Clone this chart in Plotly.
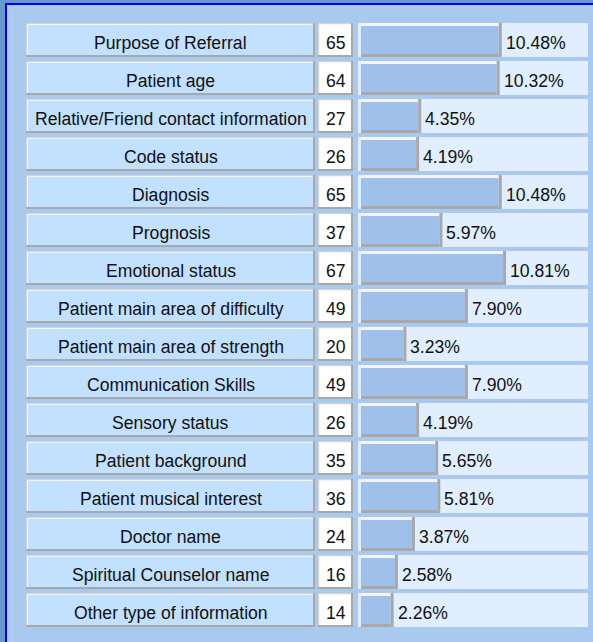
import plotly.graph_objects as go

# ---------------- data ----------------
labels = [
    "Purpose of Referral",
    "Patient age",
    "Relative/Friend contact information",
    "Code status",
    "Diagnosis",
    "Prognosis",
    "Emotional status",
    "Patient main area of difficulty",
    "Patient main area of strength",
    "Communication Skills",
    "Sensory status",
    "Patient background",
    "Patient musical interest",
    "Doctor name",
    "Spiritual Counselor name",
    "Other type of information",
]
counts = [65, 64, 27, 26, 65, 37, 67, 49, 20, 49, 26, 35, 36, 24, 16, 14]
percents = ["10.48%", "10.32%", "4.35%", "4.19%", "10.48%", "5.97%", "10.81%",
            "7.90%", "3.23%", "7.90%", "4.19%", "5.65%", "5.81%", "3.87%",
            "2.58%", "2.26%"]

# ---------------- layout constants ----------------
W, H = 593, 642
PITCH = 38          # px per row
FIRST_CENTER = 40   # px from top to first row centre
CELL_H = 34
BEV = 3
U = 1.0 / PITCH     # row units per pixel

LABEL_X = (26, 315)
COUNT_X = (318, 353)
BARCELL_X = (358, 588)
AXIS_X0 = 361
PX_PER_COUNT = 2.12

FONT = dict(family="Liberation Sans, Arial, sans-serif", size=17.6, color="#111111")

PANEL = "#a9c9ee"
OUTER = "#6699cc"
FRAME = "#0000f0"
LABEL_FILL = "#c2e0ff"
BARCELL_FILL = "#e0eeff"
BAR_FILL = "#a0c0ec"
GRAY = "#a8a8a8"
LIGHT = "#f4f4f4"
LIGHTGRAY = "#d4d4d4"

rows = list(range(len(labels)))

fig = go.Figure()
fig.add_trace(go.Bar(
    x=counts, y=rows, orientation="h",
    width=(CELL_H - 2 * BEV) * U,
    marker=dict(color=BAR_FILL, line=dict(width=0)),
    hoverinfo="skip", showlegend=False,
))

shapes = []


def px(x):
    return x / W


def paper_rect(x0, x1, y0, y1, color):
    # y in pixels from top
    shapes.append(dict(type="rect", xref="paper", yref="paper", layer="below",
                       x0=px(x0), x1=px(x1), y0=1 - y1 / H, y1=1 - y0 / H,
                       fillcolor=color, line=dict(width=0)))


def cell_rect(x0, x1, i, top, bot, color):
    shapes.append(dict(type="rect", xref="paper", yref="y", layer="below",
                       x0=px(x0), x1=px(x1),
                       y0=i - (CELL_H / 2) * U + top * U,
                       y1=i + (CELL_H / 2) * U - bot * U,
                       fillcolor=color, line=dict(width=0)))


# outer frame
paper_rect(0, W, 0, 3, OUTER)
paper_rect(0, 5, 0, H, OUTER)
paper_rect(5, W, 3, 5, FRAME)
paper_rect(5, 7, 3, H, FRAME)


def bevel_cell(x0, x1, i, fill):
    cell_rect(x0, x1, i, 0, 0, GRAY)
    cell_rect(x0, x1 - 2, i, 0, 2, LIGHTGRAY)
    cell_rect(x0 + 1, x1 - 2, i, 1, 2, LIGHT)
    cell_rect(x0 + 2, x1 - 2, i, 2, 2, fill)


for i in rows:
    bevel_cell(LABEL_X[0], LABEL_X[1], i, LABEL_FILL)
    bevel_cell(COUNT_X[0], COUNT_X[1], i, "#ffffff")
    cell_rect(BARCELL_X[0], BARCELL_X[1], i, 0, 0, BARCELL_FILL)

# bar bevels (anchored to the bar data values)
for i, v in zip(rows, counts):
    yo0 = i - (CELL_H / 2) * U
    yo1 = i + (CELL_H / 2) * U
    yi0 = i - (CELL_H / 2 - BEV) * U
    yi1 = i + (CELL_H / 2 - BEV) * U
    shapes.append(dict(type="rect", xref="x", yref="y", xsizemode="pixel", xanchor=0,
                       x0=-BEV, x1=0, y0=yo0, y1=yo1, fillcolor=LIGHT, line=dict(width=0)))
    shapes.append(dict(type="rect", xref="x", yref="y", x0=0, x1=v, y0=yo0, y1=yi0,
                       fillcolor=LIGHT, line=dict(width=0)))
    shapes.append(dict(type="rect", xref="x", yref="y", x0=0, x1=v, y0=yi1, y1=yo1,
                       fillcolor=GRAY, line=dict(width=0)))
    shapes.append(dict(type="rect", xref="x", yref="y", xsizemode="pixel", xanchor=v,
                       x0=0, x1=BEV, y0=yo0, y1=yo1, fillcolor=GRAY, line=dict(width=0)))

annotations = []
TEXT_SHIFT = -2.5
for i, lab, c, p, v in zip(rows, labels, counts, percents, counts):
    annotations.append(dict(x=px((LABEL_X[0] + LABEL_X[1]) / 2), xref="paper", y=i, yref="y",
                            text=lab, showarrow=False, xanchor="center", yanchor="middle",
                            yshift=TEXT_SHIFT, font=FONT))
    annotations.append(dict(x=px((COUNT_X[0] + COUNT_X[1]) / 2), xref="paper", y=i, yref="y",
                            text=str(c), showarrow=False, xanchor="center", yanchor="middle",
                            yshift=TEXT_SHIFT, font=FONT))
    annotations.append(dict(x=v, xref="x", y=i, yref="y",
                            text=p, showarrow=False, xanchor="left", yanchor="middle",
                            xshift=BEV + 2, yshift=TEXT_SHIFT, font=FONT))

fig.update_layout(
    width=W, height=H,
    margin=dict(l=0, r=0, t=0, b=0, pad=0),
    paper_bgcolor=PANEL,
    plot_bgcolor="rgba(0,0,0,0)",
    showlegend=False,
    hovermode=False,
    shapes=shapes,
    annotations=annotations,
    xaxis=dict(domain=[px(AXIS_X0), px(BARCELL_X[1])],
               range=[0, (BARCELL_X[1] - AXIS_X0) / PX_PER_COUNT],
               visible=False, showgrid=False, zeroline=False, fixedrange=True),
    yaxis=dict(domain=[0, 1],
               range=[(H - FIRST_CENTER) / PITCH, -FIRST_CENTER / PITCH],
               visible=False, showgrid=False, zeroline=False, fixedrange=True),
)

fig.write_html(
    "out.html",
    config={"displayModeBar": False},
    post_script="document.body.style.margin='0';document.body.style.padding='0';"
                "document.body.style.overflow='hidden';",
)
